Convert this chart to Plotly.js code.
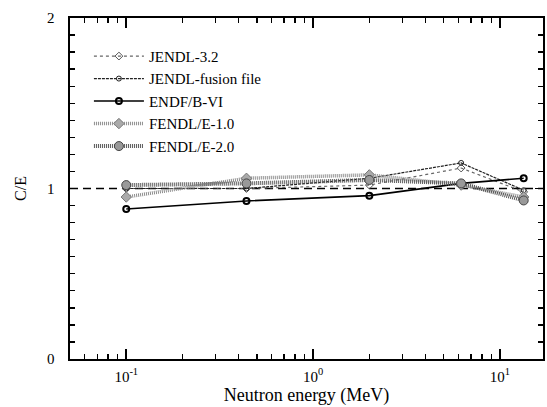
<!DOCTYPE html>
<html><head><meta charset="utf-8">
<script src="https://cdn.plot.ly/plotly-3.0.1.min.js"></script>
<style>html,body{margin:0;padding:0;background:#fff}#chart{width:547px;height:407px}</style>
</head><body><div id="chart"></div>
<script>
const energy = [0.1, 0.44, 2.0, 6.2, 13.4];
const jendl32 = [1.00, 1.00, 1.02, 1.12, 0.98];
const jendlFusion = [1.00, 1.00, 1.06, 1.15, 0.99];
const endfb6 = [0.88, 0.927, 0.958, 1.03, 1.06];
const fendl1 = [0.95, 1.06, 1.08, 1.02, 0.95];
const fendl2 = [1.02, 1.03, 1.05, 1.03, 0.93];
const names = ['JENDL-3.2', 'JENDL-fusion file', 'ENDF/B-VI', 'FENDL/E-1.0', 'FENDL/E-2.0'];
const xTickVals = [0.1, 1, 10];
const xTickText = ['10<sup>-1</sup>', '10<sup>0</sup>', '10<sup>1</sup>'];
const xMinorVals = [0.06,0.07,0.08,0.09,0.2,0.3,0.4,0.5,0.6,0.7,0.8,0.9,2,3,4,5,6,7,8,9];
const xRange = [Math.log10(0.05), Math.log10(17)];
const yRange = [0, 2];

const traces = [
  {x: energy, y: jendl32, name: names[0], mode: 'lines+markers',
   line: {color: '#666', width: 1.2, dash: 'dot'}, marker: {symbol: 'diamond-open', size: 6, color: '#555'}},
  {x: energy, y: jendlFusion, name: names[1], mode: 'lines+markers',
   line: {color: '#222', width: 1.2, dash: '3px,1px'}, marker: {symbol: 'circle-open', size: 5, color: '#222'}},
  {x: energy, y: endfb6, name: names[2], mode: 'lines+markers',
   line: {color: '#000', width: 1.6}, marker: {symbol: 'circle-open', size: 6, color: '#000', line: {width: 2}}},
  {x: energy, y: fendl1, name: names[3], mode: 'lines+markers',
   line: {color: '#8c8c8c', width: 3.5, dash: '1px,1px'}, marker: {symbol: 'diamond', size: 8, color: '#aaa', line: {color: '#777', width: 1}}},
  {x: energy, y: fendl2, name: names[4], mode: 'lines+markers',
   line: {color: '#555', width: 4, dash: '1px,1px'}, marker: {symbol: 'circle', size: 9, color: '#999', line: {color: '#444', width: 1}}},
  // invisible carrier so the minor-tick axes are drawn
  {x: energy, y: endfb6, xaxis: 'x2', yaxis: 'y2', mode: 'markers', showlegend: false, hoverinfo: 'skip',
   marker: {opacity: 0, size: 1}}
];

const layout = {
  width: 547, height: 407,
  margin: {l: 70, r: 4, t: 18, b: 48},
  paper_bgcolor: '#fff', plot_bgcolor: '#fff',
  font: {family: 'Liberation Serif, Times New Roman, serif', color: '#000', size: 15},
  showlegend: true,
  legend: {x: 0.04, y: 0.936, xanchor: 'left', yanchor: 'top', bgcolor: 'rgba(0,0,0,0)',
           font: {size: 15}, tracegroupgap: 0, itemwidth: 50},
  xaxis: {type: 'log', range: xRange,
          tickmode: 'array', tickvals: xTickVals, ticktext: xTickText,
          ticks: 'inside', ticklen: 10, tickwidth: 1.6, tickcolor: '#000', ticklabelstandoff: 3,
          showline: true, linecolor: '#000', linewidth: 1.6, mirror: 'ticks',
          showgrid: false, zeroline: false, tickfont: {size: 15},
          title: {text: 'Neutron energy (MeV)', font: {size: 18}, standoff: 3}},
  xaxis2: {type: 'log', range: xRange, overlaying: 'x', anchor: 'y', side: 'bottom',
           tickmode: 'array', tickvals: xMinorVals, showticklabels: false,
           ticks: 'inside', ticklen: 5, tickwidth: 1.4, tickcolor: '#000',
           showline: false, mirror: 'ticks', showgrid: false, zeroline: false},
  yaxis: {range: yRange, dtick: 1, tick0: 0,
          ticks: 'inside', ticklen: 8, tickwidth: 1.6, tickcolor: '#000', ticklabelstandoff: 11,
          showline: true, linecolor: '#000', linewidth: 1.6, mirror: 'ticks',
          showgrid: false, zeroline: false, tickfont: {size: 15},
          title: {text: 'C/E', font: {size: 16}, standoff: 16}},
  yaxis2: {range: yRange, overlaying: 'y', anchor: 'x', side: 'left',
           dtick: 0.1, tick0: 0, showticklabels: false,
           ticks: 'inside', ticklen: 5, tickwidth: 1.4, tickcolor: '#000',
           showline: false, mirror: 'ticks', showgrid: false, zeroline: false},
  shapes: [{type: 'line', xref: 'paper', x0: 0, x1: 1, yref: 'y', y0: 1, y1: 1,
            line: {color: '#000', width: 1.3, dash: '8px,5px'}, layer: 'below'}]
};
Plotly.newPlot('chart', traces, layout, {displayModeBar: false, staticPlot: true});
</script></body></html>
